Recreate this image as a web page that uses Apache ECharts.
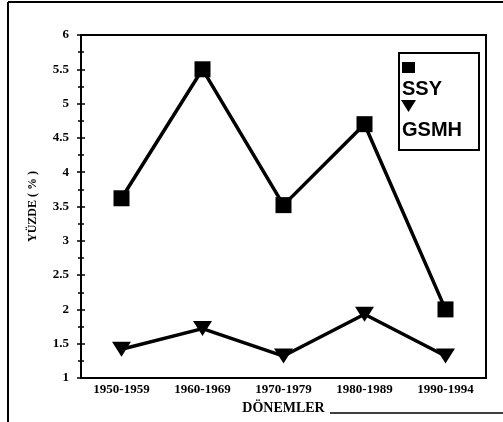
<!DOCTYPE html>
<html><head><meta charset="utf-8">
<script src="https://cdn.jsdelivr.net/npm/echarts@6/dist/echarts.min.js"></script>
<style>html,body{margin:0;padding:0;background:#fff}#c{width:503px;height:422px}</style>
</head><body><div id="c"></div>
<script>
var categories = ['1950-1959','1960-1969','1970-1979','1980-1989','1990-1994'];
var ssyValues = [3.62, 5.5, 3.52, 4.7, 2.0];
var gsmhValues = [1.42, 1.72, 1.32, 1.93, 1.32];
var seriesNames = ['SSY','GSMH'];
var yTickMin = 1, yTickMax = 6, yTickStep = 0.5;

var chart = echarts.init(document.getElementById('c'));
var serif = '"Liberation Serif", "DejaVu Serif", serif';
var sans = '"Liberation Sans", Arial, sans-serif';
chart.setOption({
  animation: false,
  backgroundColor: '#fff',
  grid: {left: 81, right: 17, top: 35, bottom: 44, show: true, borderColor: '#000', borderWidth: 2},
  xAxis: {
    type: 'category', data: categories, boundaryGap: true,
    name: 'DÖNEMLER', nameLocation: 'middle', nameGap: 20,
    nameTextStyle: {fontFamily: serif, fontWeight: 'bold', fontSize: 14, color: '#000'},
    axisLine: {lineStyle: {color: '#000', width: 2}},
    axisTick: {alignWithLabel: true, inside: true, length: 8, lineStyle: {color: '#000', width: 1.5}},
    axisLabel: {fontFamily: serif, fontWeight: 'bold', fontSize: 13, color: '#000', margin: 5, interval: 0},
    splitLine: {show: false}
  },
  yAxis: [{
    type: 'value', min: yTickMin, max: yTickMax, interval: yTickStep,
    name: 'YÜZDE ( % )', nameLocation: 'middle', nameGap: 42, nameRotate: 90,
    nameTextStyle: {fontFamily: serif, fontWeight: 'bold', fontSize: 12, color: '#000'},
    axisLine: {show: true, lineStyle: {color: '#000', width: 2}},
    axisTick: {show: true, length: 4, lineStyle: {color: '#000', width: 1.5}},
    minorTick: {show: true, splitNumber: 2, length: 3, lineStyle: {color: '#000', width: 1.5}},
    axisLabel: {fontFamily: serif, fontWeight: 'bold', fontSize: 13, color: '#000', margin: 12,
      formatter: function(v){ return String(v); }},
    splitLine: {show: false}
  },{
    type: 'value', min: yTickMin, max: yTickMax, interval: yTickStep, position: 'left',
    axisLine: {show: false},
    axisTick: {show: true, inside: true, length: 4, lineStyle: {color: '#000', width: 1.5}},
    minorTick: {show: true, splitNumber: 2, length: 3, lineStyle: {color: '#000', width: 1.5}},
    axisLabel: {show: false}, splitLine: {show: false}
  }],
  series: [{
    name: seriesNames[0], type: 'line', data: ssyValues,
    symbol: 'rect', symbolSize: 16,
    lineStyle: {color: '#000', width: 3.5}, itemStyle: {color: '#000'}
  },{
    name: seriesNames[1], type: 'line', data: gsmhValues,
    symbol: 'triangle', symbolRotate: 180, symbolSize: [19, 15],
    lineStyle: {color: '#000', width: 3.5}, itemStyle: {color: '#000'}
  }],
  graphic: [
    {type: 'line', shape: {x1: 8, y1: 2, x2: 8, y2: 422}, style: {stroke: '#000', lineWidth: 2}},
    {type: 'line', shape: {x1: 8, y1: 2, x2: 503, y2: 2}, style: {stroke: '#000', lineWidth: 2}},
    {type: 'line', shape: {x1: 330, y1: 413, x2: 503, y2: 413}, style: {stroke: '#000', lineWidth: 1.5}},
    {type: 'rect', shape: {x: 399, y: 53, width: 80, height: 97}, style: {fill: '#fff', stroke: '#000', lineWidth: 2}},
    {type: 'rect', shape: {x: 402, y: 62, width: 13, height: 11}, style: {fill: '#000'}},
    {type: 'text', left: 402, top: 79, style: {text: seriesNames[0], font: 'bold 20px ' + sans, fill: '#000'}},
    {type: 'polygon', shape: {points: [[401,100],[416,100],[408.5,112]]}, style: {fill: '#000'}},
    {type: 'text', left: 402, top: 120, style: {text: seriesNames[1], font: 'bold 20px ' + sans, fill: '#000'}}
  ]
});
</script></body></html>
